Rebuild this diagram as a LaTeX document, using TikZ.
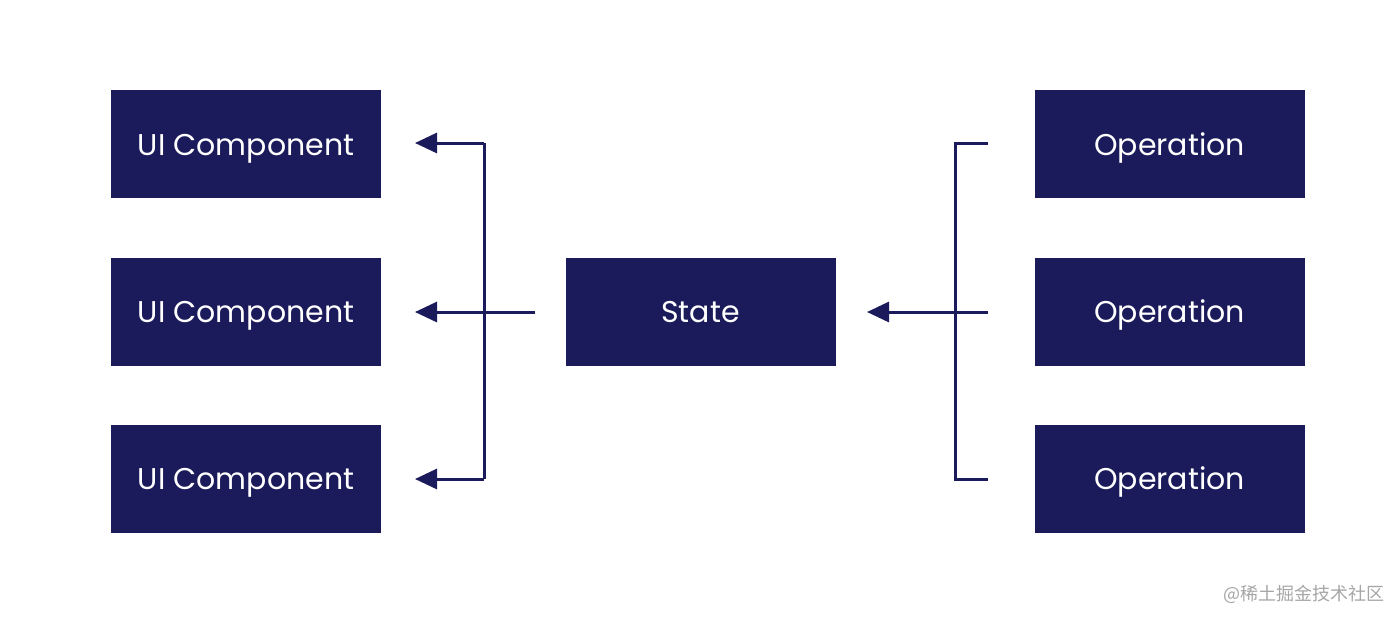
\documentclass[tikz,border=0pt]{standalone}
\usepackage{fontspec}
\setmainfont{Poppins}
\newfontfamily\cjk{Noto Sans CJK SC}
\usetikzlibrary{arrows.meta}
\definecolor{navy}{HTML}{1B1B5C}
\begin{document}
\begin{tikzpicture}[x=0.5pt,y=-0.5pt,
  box/.style={fill=navy,draw=none,minimum width=135pt,minimum height=54pt,inner sep=0,text height=11pt,text depth=0pt,text=white,font=\fontsize{15}{18}\selectfont},
  ln/.style={draw=navy,line width=1.5pt},
  arr/.style={ln,-{Triangle[length=11pt,width=10pt]}}]
\useasboundingbox (0,0) rectangle (1400,622);
\fill[white] (0,0) rectangle (1400,622);
\node[box] (u1) at (246,144) {UI Component};
\node[box] (u2) at (246,311.5) {UI Component};
\node[box] (u3) at (246,478.5) {UI Component};
\node[box] (s) at (700.5,311.5) {State};
\node[box] (o1) at (1169.5,144) {Operation};
\node[box] (o2) at (1169.5,311.5) {Operation};
\node[box] (o3) at (1169.5,478.5) {Operation};
\coordinate (lt) at (484,143); \coordinate (lb) at (484,479);
\coordinate (la1) at (415,143); \coordinate (la2) at (415,312); \coordinate (la3) at (415,479);
\coordinate (ls) at (535,312);
\coordinate (rt) at (955,143); \coordinate (rb) at (955,479);
\coordinate (r1) at (988,143); \coordinate (r2) at (988,312); \coordinate (r3) at (988,479);
\coordinate (ra) at (867,312);
\draw[ln] (lt) -- (lb);
\draw[arr] (lt) -- (la1);
\draw[arr] (lb) -- (la3);
\draw[arr] (ls) -- (la2);
\draw[ln] (r1) -- (rt) -- (rb) -- (r3);
\draw[arr] (r2) -- (ra);
\node[anchor=east,text=gray!70,font=\cjk\fontsize{9}{11}\selectfont,inner sep=0] (wm) at (1385,594) {@稀土掘金技术社区};
\end{tikzpicture}
\end{document}
